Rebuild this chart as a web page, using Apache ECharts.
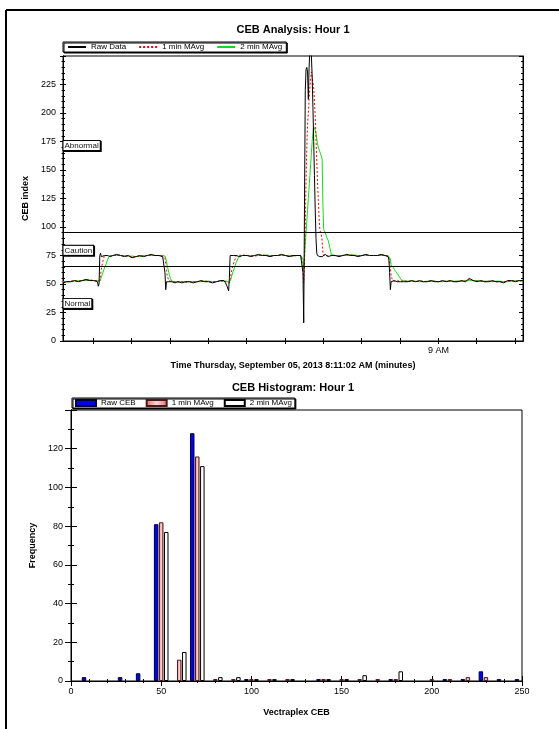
<!DOCTYPE html>
<html><head><meta charset="utf-8">
<script src="https://cdn.jsdelivr.net/npm/echarts@6/dist/echarts.min.js"></script>
<style>html,body{margin:0;padding:0;background:#fff}#c{width:559px;height:729px}</style>
</head><body><div id="c"></div>
<script>
// ---- Top chart: minutes after 8:11:02 AM ----
const times = [
  0, 0.5, 1, 1.5, 2, 2.5, 3, 3.5, 4, 4.5,
  4.6, 4.7, 4.8, 4.9, 5.0, 5.2, 5.4, 5.6, 5.8, 6.0, 6.2,
  6.5, 7, 7.5, 8, 8.5, 9, 9.5, 10, 10.5, 11, 11.5, 12, 12.5, 13,
  13.2, 13.3, 13.4, 13.5, 13.6, 13.8, 14, 14.2, 14.4, 14.6,
  15, 15.5, 16, 16.5, 17, 17.5, 18, 18.5, 19, 19.5, 20, 20.5, 21,
  21.2, 21.4, 21.6, 21.7, 21.8, 21.9, 22, 22.2, 22.4, 22.6, 22.8, 23, 23.2, 23.4,
  24, 24.5, 25, 25.5, 26, 26.5, 27, 27.5, 28, 28.5, 29, 29.5, 30, 30.5, 31,
  31.2, 31.3, 31.4, 31.5, 31.6, 31.7, 31.8, 31.9, 32, 32.1, 32.2, 32.3, 32.4, 32.5, 32.6, 32.7, 32.8, 32.9, 33, 33.1, 33.2, 33.3, 33.4, 33.5, 33.6, 33.7, 33.8, 33.9, 34, 34.2, 34.4, 34.6, 34.8, 35, 35.2,
  35.5, 36, 36.5, 37, 37.5, 38, 38.5, 39, 39.5, 40, 40.5, 41, 41.5, 42,
  42.2, 42.4, 42.5, 42.6, 42.7, 42.8, 42.9, 43, 43.2, 43.4, 43.6, 43.8, 44, 44.2, 44.4,
  45, 45.5, 46, 46.5, 47, 47.5, 48, 48.5, 49, 49.5, 50, 50.5, 51, 51.5, 52, 52.5, 53, 53.5, 54, 54.5, 55, 55.5, 56, 56.5, 57, 57.5, 58, 58.5, 59, 59.5, 60
];
const rawData = [
  51, 52, 52, 53, 52, 53, 54, 53, 53, 52,
  48, 50, 75, 77, 74, 75, 75, 76, 75, 75, 74,
  75, 76, 75, 74, 75, 73, 74, 75, 74, 75, 76, 75, 75, 74,
  73, 60, 45, 52, 52, 52, 51, 52, 52, 51,
  52, 51, 52, 52, 51, 52, 53, 52, 52, 51, 52, 53, 53,
  51, 48, 44, 55, 75, 76, 75, 75, 76, 75, 75, 74, 75, 75,
  75, 74, 75, 76, 75, 75, 74, 75, 75, 76, 75, 74, 75, 75, 75,
  74, 60, 16, 120, 220, 238, 240, 236, 212, 240, 255, 255, 250, 232, 205, 175, 145, 115, 90, 77, 75, 76, 75, 74, 75, 75, 74, 75, 75, 76, 75, 74, 75, 75, 75,
  75, 74, 75, 76, 75, 75, 74, 75, 76, 75, 75, 75, 76, 75,
  75, 74, 72, 60, 45, 52, 53, 52, 53, 52, 52, 53, 52, 53, 52,
  52, 53, 52, 53, 52, 52, 53, 52, 52, 53, 52, 53, 52, 52, 53, 52, 55, 53, 52, 53, 52, 52, 53, 52, 52, 51, 53, 53, 52, 53, 53
];
const mavg1 = [
  52, 52, 52.5, 53, 52.5, 53, 53.5, 53.5, 53, 53,
  52, 51.5, 53, 58, 63, 70, 75, 75.5, 75, 75, 75,
  75, 75, 75.5, 74.5, 74.5, 74, 74, 74.5, 75, 75, 75.5, 75, 75, 74.5,
  74.5, 73, 68, 62, 57, 53, 52, 52, 52, 52,
  52, 52, 51.5, 52, 52, 52, 52.5, 52.5, 52, 52, 52, 52.5, 53,
  52.5, 51.5, 50, 51, 54, 58, 62, 67, 71, 75, 75, 75, 75, 75.5,
  75, 75, 74.5, 75, 75.5, 75, 74.5, 75, 75, 75.5, 75, 74.5, 74.5, 75, 75,
  74.5, 65, 51, 70, 100, 140, 170, 190, 200, 212, 222, 230, 236, 237, 235, 222, 210, 197, 178, 158, 139, 124, 108, 98, 95, 93, 88, 77, 75, 75, 74.5, 75, 75.5, 75, 74.5,
  75, 74.5, 75, 75.5, 75.5, 75, 75, 75, 75.5, 75, 75, 75, 75.5, 75,
  75, 74.5, 74, 70, 64, 58, 55, 53, 52.5, 52, 52.5, 53, 52.5, 52.5, 52.5,
  52.5, 52.5, 52, 52.5, 52.5, 52, 52.5, 52.5, 52, 52.5, 52.5, 52.5, 52, 52.5, 52.5, 53, 54, 53, 52.5, 52.5, 52, 52.5, 52.5, 52, 52, 52, 52.5, 53, 52.5, 52.5, 53
];
const mavg2 = [
  52, 52, 52, 52.5, 53, 53, 53, 53.5, 53, 53,
  53, 52.5, 52.5, 54, 56, 60, 64, 67, 71, 74, 75,
  75, 75, 75, 75, 74.5, 74.5, 74, 74, 74.5, 75, 75, 75, 75, 75,
  75, 74.5, 73, 70, 66, 60, 55, 52.5, 52, 52,
  52, 52, 52, 52, 52, 52, 52, 52.5, 52.5, 52, 52, 52.5, 52.5,
  53, 52.5, 51.5, 51.5, 52.5, 54, 57, 61, 65, 69, 72, 74, 75, 75,
  75, 75, 75, 75, 75, 75.5, 75, 75, 75, 75, 75, 75, 74.5, 75, 75,
  75, 72, 63, 75, 85, 95, 105, 115, 125, 135, 145, 155, 165, 175, 183, 188, 188, 185, 182, 177, 173, 170, 168, 166, 164, 162, 160, 120, 98, 95, 91, 88, 82, 76, 75,
  75, 75, 75, 75, 75.5, 75.5, 75, 75, 75, 75, 75, 75, 75, 75,
  75, 75, 75, 74.5, 72, 67, 66, 65, 63, 61, 59, 57, 55, 53, 52.5,
  52.5, 52.5, 52.5, 52, 52, 52.5, 52.5, 52.5, 52, 52, 52.5, 52.5, 52.5, 52.5, 52.5, 52.5, 53, 53, 53, 52.5, 52.5, 52.5, 52, 52.5, 52.5, 52, 52, 52.5, 53, 53, 52.5
];
const thresholds = [95, 65.5];
const zoneNames = ['Abnormal', 'Caution', 'Normal'];
const zoneValues = [171.5, 79.5, 33];
const nineAM = 48 + 58 / 60; // 9:00:00 minus 8:11:02

// ---- Histogram ----
const bins   = [10, 20, 30, 40, 50, 60, 70, 80, 90, 100, 110, 120, 130, 140, 150, 160, 170, 180, 190, 200, 210, 220, 230, 240, 250];
const rawCEB = [ 2,  0,  2,  4, 81,  0, 128, 0,  0,   1,   0,   0,   0,   1,   0,   0,   0,   1,   0,   0,   1,   1,   5,   1,   1];
const histM1 = [ 0,  0,  0,  0, 82, 11, 116, 1,  1,   1,   1,   1,   0,   1,   1,   1,   1,   1,   0,   1,   1,   2,   2,   0,   0];
const histM2 = [ 0,  0,  0,  0, 77, 15, 111, 2,  2,   1,   1,   1,   0,   1,   1,   3,   0,   5,   0,   0,   0,   0,   0,   0,   0];

const FONT = 'Liberation Sans';
const timeTicks = [];
for (let v = nineAM % 5; v < 60; v += 5) timeTicks.push(v);

const chart = echarts.init(document.getElementById('c'), null, {renderer: 'canvas'});

function lineSeries(name, vals, color, type, z) {
  return {
    type: 'line', name, xAxisIndex: 0, yAxisIndex: 0,
    data: times.map((t, i) => [t, vals[i]]),
    symbol: 'none', showSymbol: false, clip: true, z,
    lineStyle: {color, width: 1, type}, itemStyle: {color}
  };
}
const raw = lineSeries('Raw Data', rawData, '#000', 'solid', 5);
raw.markLine = {
  silent: true, symbol: ['none', 'none'], label: {show: false},
  lineStyle: {color: '#000', width: 1, type: 'solid'},
  data: thresholds.map(v => ({yAxis: v}))
};
raw.markPoint = {
  silent: true, symbol: 'rect', symbolSize: 1, itemStyle: {color: 'rgba(0,0,0,0)'},
  label: {
    show: true, position: 'right', distance: 0, formatter: '{b}',
    fontSize: 8, fontFamily: FONT, color: '#111', lineHeight: 9,
    backgroundColor: '#fff', borderColor: '#000', borderWidth: 1, padding: [0, 1, 0, 1],
    shadowColor: '#000', shadowOffsetX: 1, shadowOffsetY: 1, shadowBlur: 0
  },
  data: zoneNames.map((n, i) => ({name: n, coord: [0, zoneValues[i]]}))
};

const pinkGrad = new echarts.graphic.LinearGradient(0, 0, 1, 0, [
  {offset: 0, color: '#e46a6a'}, {offset: 0.5, color: '#ffd6d6'}, {offset: 1, color: '#e46a6a'}
]);
function barSeries(name, vals, itemStyle) {
  return {
    type: 'bar', name, xAxisIndex: 2, yAxisIndex: 3,
    data: bins.map((b, i) => [b, vals[i] ? vals[i] : '-']),
    barWidth: 4.5, barGap: '12%', itemStyle
  };
}

const tickLabel = {fontSize: 9, fontFamily: FONT, color: '#000'};
const nameStyle = {fontSize: 9, fontFamily: FONT, color: '#000', fontWeight: 'bold'};
const blackLine = {show: true, lineStyle: {color: '#000', width: 1}};

const option = {
  animation: false,
  title: [
    {text: 'CEB Analysis: Hour 1', left: 293, top: 24, textAlign: 'center', padding: 0,
     textStyle: {fontSize: 11, fontWeight: 'bold', fontFamily: FONT, color: '#000'}},
    {text: 'CEB Histogram: Hour 1', left: 293, top: 382, textAlign: 'center', padding: 0,
     textStyle: {fontSize: 11, fontWeight: 'bold', fontFamily: FONT, color: '#000'}}
  ],
  legend: [
    {data: ['Raw Data', '1 min MAvg', '2 min MAvg'], left: 63, top: 42, selectedMode: false,
     padding: [1, 4, 1, 4], itemGap: 12, itemWidth: 18, itemHeight: 8,
     itemStyle: {opacity: 0},
     borderColor: '#000', borderWidth: 1, backgroundColor: '#fff',
     shadowColor: '#000', shadowOffsetX: 1, shadowOffsetY: 1, shadowBlur: 0,
     textStyle: {fontSize: 8, fontFamily: FONT, color: '#000', lineHeight: 8}},
    {data: ['Raw CEB', '1 min MAvg ', '2 min MAvg '], formatter: n => n.trim(), icon: 'rect',
     left: 72, top: 398, selectedMode: false,
     padding: [1, 3, 1, 3], itemGap: 10, itemWidth: 20, itemHeight: 6,
     borderColor: '#000', borderWidth: 1, backgroundColor: '#fff',
     shadowColor: '#000', shadowOffsetX: 1, shadowOffsetY: 1, shadowBlur: 0,
     textStyle: {fontSize: 8, fontFamily: FONT, color: '#000', lineHeight: 8}}
  ],
  grid: [
    {left: 63, right: 36, top: 56, height: 285, show: true, borderColor: '#000', borderWidth: 1, containLabel: false},
    {left: 71, right: 37, top: 410, height: 271, show: true, borderColor: '#000', borderWidth: 1, containLabel: false}
  ],
  xAxis: [
    {type: 'value', gridIndex: 0, position: 'bottom', min: 0, max: 60,
     axisLine: blackLine, splitLine: {show: false},
     axisTick: {show: true, inside: true, length: 3, customValues: timeTicks, lineStyle: {color: '#000'}},
     axisLabel: Object.assign({customValues: [nineAM], formatter: () => '9 AM', margin: 5}, tickLabel),
     name: 'Time Thursday, September 05, 2013 8:11:02 AM (minutes)', nameLocation: 'middle', nameGap: 20,
     nameTextStyle: nameStyle},
    {type: 'value', gridIndex: 0, position: 'top', min: 0, max: 60,
     axisLine: blackLine, splitLine: {show: false}, axisLabel: {show: false},
     axisTick: {show: true, inside: true, length: 3, customValues: timeTicks, lineStyle: {color: '#000'}}},
    {type: 'value', gridIndex: 1, position: 'bottom', min: 0, max: 250, interval: 50,
     axisLine: blackLine, splitLine: {show: false},
     axisTick: {show: true, inside: true, length: 5, lineStyle: {color: '#000'}},
     minorTick: {show: true, splitNumber: 5, length: 2, lineStyle: {color: '#000'}},
     axisLabel: Object.assign({margin: 6}, tickLabel),
     name: 'Vectraplex CEB', nameLocation: 'middle', nameGap: 27, nameTextStyle: nameStyle},
    {type: 'value', gridIndex: 1, position: 'top', min: 0, max: 250, interval: 50,
     axisLine: blackLine, splitLine: {show: false}, axisLabel: {show: false},
     axisTick: {show: true, inside: true, length: 5, lineStyle: {color: '#000'}},
     minorTick: {show: true, splitNumber: 5, length: 2, lineStyle: {color: '#000'}}}
  ],
  yAxis: [
    {type: 'value', gridIndex: 0, position: 'left', min: 0, max: 250, interval: 25,
     axisLine: blackLine, splitLine: {show: false},
     axisTick: {show: true, inside: false, length: 3, lineStyle: {color: '#000'}},
     minorTick: {show: true, splitNumber: 5, length: 1.5, lineStyle: {color: '#000'}},
     axisLabel: Object.assign({margin: 7, formatter: v => v === 250 ? '' : v}, tickLabel),
     name: 'CEB index', nameLocation: 'middle', nameGap: 29, nameTextStyle: nameStyle},
    {type: 'value', gridIndex: 0, position: 'left', min: 0, max: 250, interval: 25,
     axisLine: blackLine, splitLine: {show: false}, axisLabel: {show: false},
     axisTick: {show: true, inside: true, length: 3, lineStyle: {color: '#000'}},
     minorTick: {show: true, splitNumber: 5, length: 2, lineStyle: {color: '#000'}}},
    {type: 'value', gridIndex: 0, position: 'right', min: 0, max: 250, interval: 25,
     axisLine: blackLine, splitLine: {show: false}, axisLabel: {show: false},
     axisTick: {show: true, inside: true, length: 4, lineStyle: {color: '#000'}},
     minorTick: {show: true, splitNumber: 5, length: 2, lineStyle: {color: '#000'}}},
    {type: 'value', gridIndex: 1, position: 'left', min: 0, max: 140, interval: 20,
     axisLine: blackLine, splitLine: {show: false},
     axisTick: {show: true, inside: true, length: 6, lineStyle: {color: '#000'}},
     minorTick: {show: true, splitNumber: 2, length: 3, lineStyle: {color: '#000'}},
     axisLabel: Object.assign({margin: 8, formatter: v => v === 140 ? '' : v}, tickLabel),
     name: 'Frequency', nameLocation: 'middle', nameGap: 33, nameTextStyle: nameStyle},
    {type: 'value', gridIndex: 1, position: 'right', min: 0, max: 140, interval: 20,
     axisLine: blackLine, splitLine: {show: false}, axisLabel: {show: false},
     axisTick: {show: true, inside: true, length: 6, lineStyle: {color: '#000'}},
     minorTick: {show: true, splitNumber: 2, length: 3, lineStyle: {color: '#000'}}}
  ],
  graphic: [
    {type: 'line', shape: {x1: 6, y1: 10, x2: 559, y2: 10}, style: {stroke: '#000', lineWidth: 2}},
    {type: 'line', shape: {x1: 6, y1: 10, x2: 6, y2: 729}, style: {stroke: '#000', lineWidth: 2}}
  ],
  series: [
    lineSeries('2 min MAvg', mavg2, '#11dd11', 'solid', 3),
    lineSeries('1 min MAvg', mavg1, '#ff0000', [2, 2], 4),
    raw,
    barSeries('Raw CEB', rawCEB, {color: '#0000ee', borderColor: '#000033', borderWidth: 1}),
    barSeries('1 min MAvg ', histM1, {color: pinkGrad, borderColor: '#4a1a1a', borderWidth: 1}),
    barSeries('2 min MAvg ', histM2, {color: '#ffffff', borderColor: '#000', borderWidth: 1})
  ]
};
chart.setOption(option);
</script>
</body></html>
